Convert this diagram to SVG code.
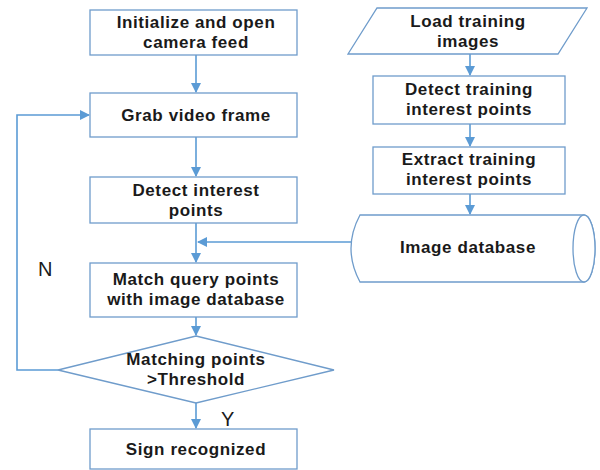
<svg xmlns="http://www.w3.org/2000/svg" width="600" height="470" viewBox="0 0 600 470">
<defs>
<marker id="ah" markerWidth="10" markerHeight="10" refX="9" refY="5" orient="auto" markerUnits="userSpaceOnUse">
<path d="M0,0 L10,5 L0,10 Z" fill="#5b9bd5"/>
</marker>
</defs>
<style>
.n{fill:#fff;stroke:#6f9ccb;stroke-width:1.3}
.c{fill:none;stroke:#5b9bd5;stroke-width:1.6}
.t{font-family:"Liberation Sans",Arial,sans-serif;font-weight:bold;font-size:17px;letter-spacing:0.6px;fill:#1a1a1a;text-anchor:middle}
.l{font-family:"Liberation Sans",Arial,sans-serif;font-size:20px;fill:#1a1a1a}
</style>
<rect width="600" height="470" fill="#fff"/>
<g id="connectors">
<path class="c" d="M196,55 V92" marker-end="url(#ah)"/>
<path class="c" d="M196,137 V176" marker-end="url(#ah)"/>
<path class="c" d="M196,223 V262" marker-end="url(#ah)"/>
<path class="c" d="M196,317 V335" marker-end="url(#ah)"/>
<path class="c" d="M196,403 V428" marker-end="url(#ah)"/>
<path class="c" d="M58,370 H17 V115 H89" marker-end="url(#ah)"/>
<path class="c" d="M351,242 H198" marker-end="url(#ah)"/>
<path class="c" d="M470,54 V75" marker-end="url(#ah)"/>
<path class="c" d="M470,124 V146" marker-end="url(#ah)"/>
<path class="c" d="M470,194 V214" marker-end="url(#ah)"/>
</g>
<g id="init">
<rect class="n" x="90" y="10" width="207" height="45"/>
<text class="t" x="196" y="28">Initialize and open</text>
<text class="t" x="196" y="48">camera feed</text>
</g>
<g id="grab">
<rect class="n" x="90" y="93" width="207" height="44"/>
<text class="t" x="196" y="121">Grab video frame</text>
</g>
<g id="detect">
<rect class="n" x="90" y="177" width="207" height="46"/>
<text class="t" x="196" y="196">Detect interest</text>
<text class="t" x="196" y="216">points</text>
</g>
<g id="match">
<rect class="n" x="90" y="263" width="207" height="54"/>
<text class="t" x="196" y="285">Match query points</text>
<text class="t" x="196" y="305">with image database</text>
</g>
<g id="decision">
<polygon class="n" points="196,336 334,370 196,403 58,370"/>
<text class="t" x="196" y="365">Matching points</text>
<text class="t" x="196" y="385">&gt;Threshold</text>
</g>
<g id="sign">
<rect class="n" x="90" y="429" width="207" height="40"/>
<text class="t" x="196" y="455">Sign recognized</text>
</g>
<g id="load">
<polygon class="n" points="377,8 587,8 558,54 348,54"/>
<text class="t" x="468" y="27">Load training</text>
<text class="t" x="468" y="47">images</text>
</g>
<g id="detect-train">
<rect class="n" x="373" y="76" width="192" height="48"/>
<text class="t" x="469" y="95">Detect training</text>
<text class="t" x="469" y="115">interest points</text>
</g>
<g id="extract-train">
<rect class="n" x="373" y="147" width="192" height="47"/>
<text class="t" x="469" y="165">Extract training</text>
<text class="t" x="469" y="185">interest points</text>
</g>
<g id="database">
<path class="n" d="M360,215 H584 A11,33.5 0 0 1 584,282 H360 Q342,248.5 360,215 Z"/>
<ellipse class="n" cx="584" cy="248.5" rx="11" ry="33.5"/>
<text class="t" x="468" y="253">Image database</text>
</g>
<text class="l" x="38" y="276">N</text>
<text class="l" x="221" y="426">Y</text>
</svg>
